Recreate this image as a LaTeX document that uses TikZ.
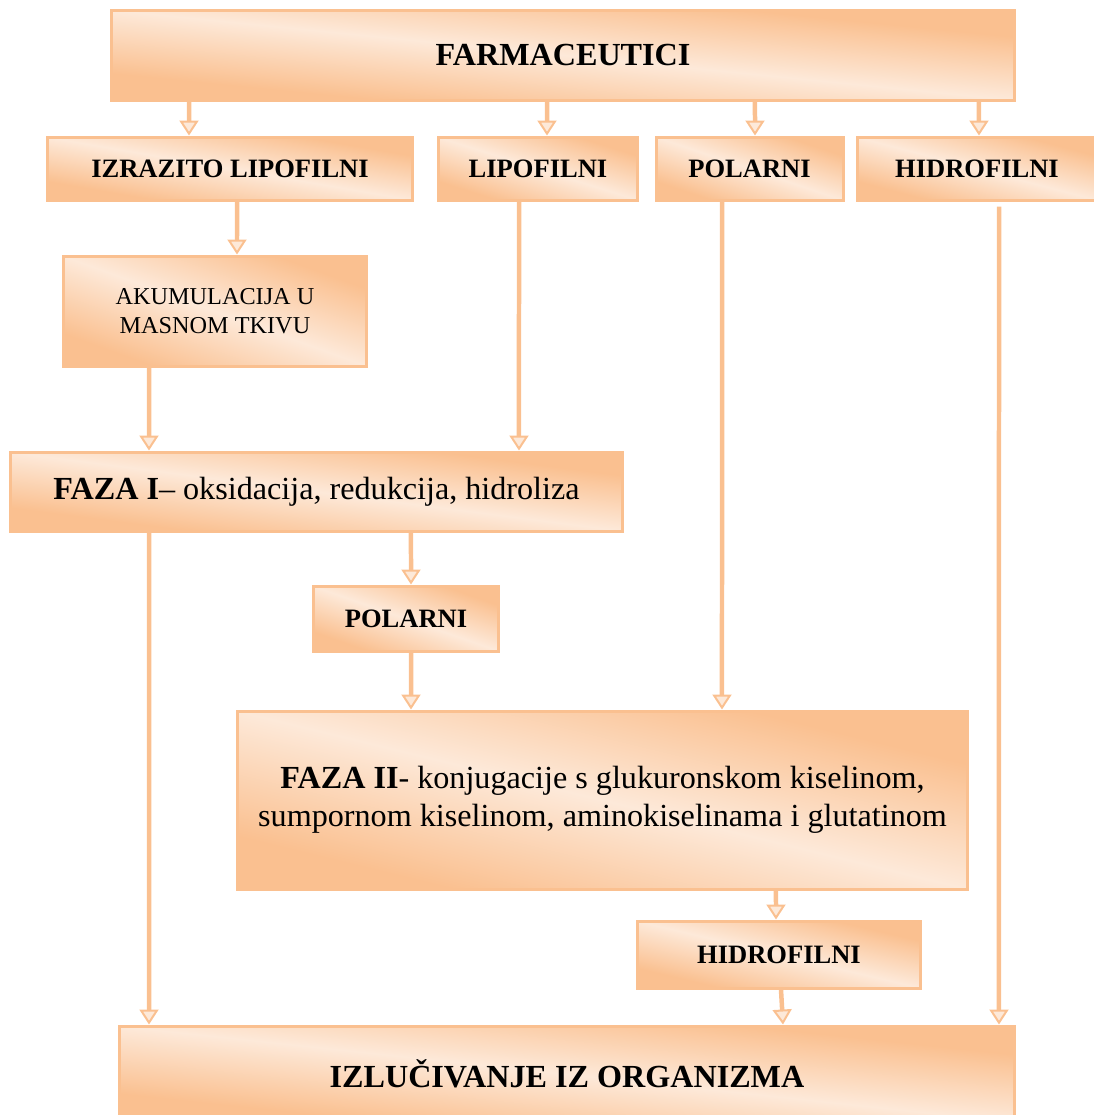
\documentclass[tikz,border=0pt]{standalone}
\usepackage{fontspec}
\setmainfont{Liberation Serif}
\usepackage{tikz}
\usetikzlibrary{arrows.meta,backgrounds}

\definecolor{peach}{HTML}{FAC090}
\definecolor{peachlight}{HTML}{FDE9D9}

% diagonal gradient stretched over a box (name, width, height)
\newcommand\boxshade[3]{%
  \shade[transform canvas={shift={(#1.center)},xscale=#2/#3},
    top color=peach, bottom color=peach, middle color=peachlight, shading angle=-45]
    (-#3/2,-#3/2) rectangle (#3/2,#3/2);}

\begin{document}
\begin{tikzpicture}[%
    >={Triangle[length=1.5mm,width=1.9mm,line width=0.2mm,fill=peachlight]},
    x=0.1mm, y=-0.1mm,
    box/.style 2 args={draw=peach, line width=0.3mm, align=center, inner sep=0pt,
      minimum width=#1, minimum height=#2},
    big/.style={font=\fontsize{9.15}{10.8}\selectfont},
    mid/.style={font=\fontsize{7.55}{9}\selectfont\bfseries},
    small/.style={font=\fontsize{6.9}{8.2}\selectfont},
    flow/.style={color=peach, line width=0.45mm},
  ]
    \useasboundingbox (0,0) rectangle (1094,1115);

    \node[box={90.4mm}{9mm},big] (farm) at (563,55) {\textbf{FARMACEUTICI}};
    \node[box={36.6mm}{6.3mm},mid] (izraz) at (230,168.5) {IZRAZITO LIPOFILNI};
    \node[box={20mm}{6.3mm},mid] (lipo) at (538,168.5) {LIPOFILNI};
    \node[box={18.7mm}{6.3mm},mid] (polar) at (749.5,168.5) {POLARNI};
    \node[box={24mm}{6.3mm},mid] (hidro) at (977,168.5) {HIDROFILNI};
    \node[box={30.4mm}{11mm},small] (akum) at (215,311) {AKUMULACIJA U\\MASNOM TKIVU};
    \node[box={61.3mm}{7.9mm},big] (fazaI) at (316.5,491.5)
      {\textbf{FAZA I}– oksidacija, redukcija, hidroliza};
    \node[box={18.6mm}{6.5mm},mid] (polarB) at (406,618.5) {POLARNI};
    \node[box={73.1mm}{17.8mm},big] (fazaII) at (602.5,800)
      {\textbf{FAZA II}- konjugacije s glukuronskom kiselinom,\\sumpornom kiselinom, aminokiselinama i glutatinom};
    \node[box={28.4mm}{6.7mm},mid] (hidroB) at (779,954.5) {HIDROFILNI};
    \node[box={89.6mm}{9.6mm},big] (izluc) at (567,1074) {\textbf{IZLUČIVANJE IZ ORGANIZMA}};

    \begin{scope}[on background layer]
      \boxshade{farm}{90.4mm}{9mm}
      \boxshade{izraz}{36.6mm}{6.3mm}
      \boxshade{lipo}{20mm}{6.3mm}
      \boxshade{polar}{18.7mm}{6.3mm}
      \boxshade{hidro}{24mm}{6.3mm}
      \boxshade{akum}{30.4mm}{11mm}
      \boxshade{fazaI}{61.3mm}{7.9mm}
      \boxshade{polarB}{18.6mm}{6.5mm}
      \boxshade{fazaII}{73.1mm}{17.8mm}
      \boxshade{hidroB}{28.4mm}{6.7mm}
      \boxshade{izluc}{89.6mm}{9.6mm}
    \end{scope}

    \path[flow,->]
    ([xshift=-37.4mm]farm.south) edge ([xshift=-4.1mm]izraz.north)
    ([xshift=-1.6mm]farm.south) edge ([xshift=0.9mm]lipo.north)
    ([xshift=19.2mm]farm.south) edge ([xshift=0.55mm]polar.north)
    ([xshift=41.6mm]farm.south) edge ([xshift=0.2mm]hidro.north)
    ([xshift=0.7mm]izraz.south) edge ([xshift=2.2mm]akum.north)
    ([xshift=-1.9mm]lipo.south) edge ([xshift=20.25mm]fazaI.north)
    ([xshift=-6.6mm]akum.south) edge ([xshift=-16.75mm]fazaI.north)
    ([xshift=-2.75mm]polar.south) edge ([xshift=11.95mm]fazaII.north)
    ([xshift=2.2mm,yshift=-0.5mm]hidro.south) edge ([xshift=43.2mm]izluc.north)
    ([xshift=-16.75mm]fazaI.south) edge ([xshift=-41.8mm]izluc.north)
    ([xshift=9.45mm]fazaI.south) edge ([xshift=0.5mm]polarB.north)
    ([xshift=0.5mm]polarB.south) edge ([xshift=-19.15mm]fazaII.north)
    ([xshift=17.35mm]fazaII.south) edge ([xshift=-0.3mm]hidroB.north)
    ([xshift=0.2mm]hidroB.south) edge ([xshift=21.6mm]izluc.north)
    ;
  \end{tikzpicture}
\end{document}
